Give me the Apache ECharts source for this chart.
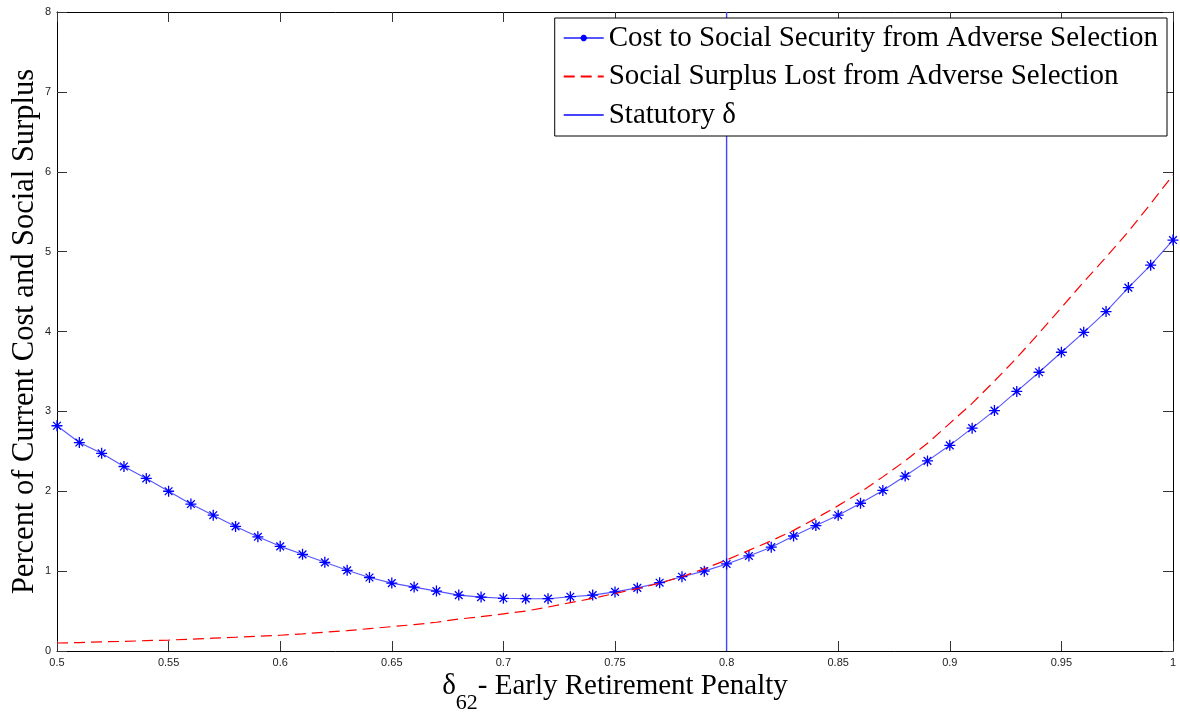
<!DOCTYPE html>
<html>
<head>
<meta charset="utf-8">
<title>Adverse Selection Cost vs Early Retirement Penalty</title>
<script src="https://cdn.jsdelivr.net/npm/echarts@6/dist/echarts.min.js"></script>
<style>
  html, body { margin: 0; padding: 0; background: #fff; }
  #chart { width: 1180px; height: 715px; }
</style>
</head>
<body>
<div id="chart"></div>
<script>
// Early retirement penalty (delta_62) grid
const delta = [
  0.50, 0.51, 0.52, 0.53, 0.54, 0.55, 0.56, 0.57, 0.58, 0.59,
  0.60, 0.61, 0.62, 0.63, 0.64, 0.65, 0.66, 0.67, 0.68, 0.69,
  0.70, 0.71, 0.72, 0.73, 0.74, 0.75, 0.76, 0.77, 0.78, 0.79,
  0.80, 0.81, 0.82, 0.83, 0.84, 0.85, 0.86, 0.87, 0.88, 0.89,
  0.90, 0.91, 0.92, 0.93, 0.94, 0.95, 0.96, 0.97, 0.98, 0.99,
  1.00
];

// Cost to Social Security from adverse selection (percent of current cost)
const costSS = [
  2.82, 2.61, 2.475, 2.31, 2.16, 2.00, 1.84, 1.70, 1.56, 1.43,
  1.31, 1.21, 1.11, 1.01, 0.92, 0.85, 0.80, 0.75, 0.70, 0.675,
  0.66, 0.655, 0.655, 0.68, 0.70, 0.74, 0.79, 0.855, 0.93, 1.00,
  1.09, 1.19, 1.30, 1.44, 1.57, 1.70, 1.85, 2.01, 2.19, 2.38,
  2.575, 2.79, 3.01, 3.25, 3.49, 3.74, 3.99, 4.25, 4.55, 4.83,
  5.145
];

// Social surplus lost from adverse selection (percent of social surplus)
const surplusLost = [
  0.10, 0.105, 0.115, 0.12, 0.13, 0.137, 0.148, 0.16, 0.172, 0.185,
  0.197, 0.215, 0.235, 0.255, 0.28, 0.305, 0.33, 0.36, 0.40, 0.43,
  0.465, 0.50, 0.55, 0.605, 0.66, 0.72, 0.78, 0.85, 0.93, 1.03,
  1.14, 1.26, 1.38, 1.51, 1.66, 1.82, 1.99, 2.18, 2.38, 2.60,
  2.85, 3.10, 3.38, 3.67, 3.98, 4.30, 4.62, 4.93, 5.25, 5.60,
  5.96
];

// Statutory early retirement penalty
const statutoryDelta = 0.8;

// Axis ranges
const xMin = 0.5, xMax = 1.0, xStep = 0.05;
const yMin = 0, yMax = 8, yStep = 1;

const seriesNames = [
  'Cost to Social Security from Adverse Selection',
  'Social Surplus Lost from Adverse Selection',
  'Statutory \u03b4'
];

const pair = (xs, ys) => xs.map((x, i) => [x, ys[i]]);

const starSymbol = 'path://M5,0L5,10M0,5L10,5M1.5,1.5L8.5,8.5M1.5,8.5L8.5,1.5';

const tickStyle = { show: true, inside: true, length: 10, lineStyle: { color: '#333', width: 1 } };
const axisLineStyle = { show: true, onZero: false, lineStyle: { color: '#000', width: 1 } };
const tickFont = { fontFamily: 'Liberation Sans', fontSize: 11, color: '#222' };

// legend entries without a marker show only their line sample
const noMarker = { color: 'rgba(0,0,0,0)', borderWidth: 0, opacity: 0 };

const chart = echarts.init(document.getElementById('chart'), null, { renderer: 'canvas' });

chart.setOption({
  animation: false,
  backgroundColor: '#fff',
  grid: { left: 57, right: 7, top: 12, bottom: 64, containLabel: false, outerBoundsMode: 'none' },
  legend: {
    orient: 'vertical',
    right: 13,
    top: 18,
    data: [
      { name: seriesNames[0] },
      { name: seriesNames[1], itemStyle: noMarker },
      { name: seriesNames[2], itemStyle: noMarker }
    ],
    backgroundColor: '#fff',
    borderColor: '#000',
    borderWidth: 1,
    borderRadius: 0,
    padding: [5, 9, 6, 8],
    itemWidth: 40,
    itemHeight: 8,
    itemGap: 8.5,
    textStyle: { fontFamily: 'Liberation Serif', fontSize: 29, lineHeight: 30, color: '#000' },
    selectedMode: false
  },
  xAxis: [
    {
      type: 'value', min: xMin, max: xMax, interval: xStep, position: 'bottom',
      axisLine: axisLineStyle, axisTick: tickStyle, splitLine: { show: false },
      axisLabel: Object.assign({ margin: 6, formatter: v => String(+v.toFixed(2)) }, tickFont),
      name: '{d|\u03b4}{s|62}{t|- Early Retirement Penalty}',
      nameLocation: 'middle',
      nameGap: 21,
      nameMoveOverlap: false,
      nameTextStyle: {
        rich: {
          d: { fontFamily: 'Liberation Serif', fontSize: 29, lineHeight: 34, verticalAlign: 'top', color: '#000' },
          s: { fontFamily: 'Liberation Serif', fontSize: 22, lineHeight: 22, padding: [20, 0, 0, 0], verticalAlign: 'top', color: '#000' },
          t: { fontFamily: 'Liberation Serif', fontSize: 29, lineHeight: 34, verticalAlign: 'top', color: '#000' }
        }
      }
    },
    {
      type: 'value', min: xMin, max: xMax, interval: xStep, position: 'top',
      axisLine: axisLineStyle, axisTick: tickStyle, axisLabel: { show: false }, splitLine: { show: false }
    }
  ],
  yAxis: [
    {
      type: 'value', min: yMin, max: yMax, interval: yStep, position: 'left',
      axisLine: axisLineStyle, axisTick: tickStyle, splitLine: { show: false },
      axisLabel: Object.assign({ margin: 6 }, tickFont),
      name: 'Percent of Current Cost and Social Surplus',
      nameLocation: 'middle',
      nameRotate: 90,
      nameGap: 17,
      nameMoveOverlap: false,
      nameTextStyle: { fontFamily: 'Liberation Serif', fontSize: 30.5, color: '#000', verticalAlign: 'bottom' }
    },
    {
      type: 'value', min: yMin, max: yMax, interval: yStep, position: 'right',
      axisLine: axisLineStyle, axisTick: tickStyle, axisLabel: { show: false }, splitLine: { show: false }
    }
  ],
  series: [
    {
      name: seriesNames[0],
      type: 'line',
      data: pair(delta, costSS),
      symbol: starSymbol,
      symbolSize: 11,
      showAllSymbol: true,
      lineStyle: { color: '#2a2aff', width: 1.1, opacity: 0.8 },
      itemStyle: { color: '#0000ff', borderColor: '#0000ff', borderWidth: 1.3 },
      emphasis: { disabled: true },
      z: 3
    },
    {
      name: seriesNames[1],
      type: 'line',
      data: pair(delta, surplusLost),
      symbol: 'none',
      smooth: false,
      lineStyle: { color: '#ff0000', width: 1.2, type: [11, 6] },
      itemStyle: { color: '#ff0000' },
      emphasis: { disabled: true },
      z: 4
    },
    {
      name: seriesNames[2],
      type: 'line',
      data: [[statutoryDelta, yMin], [statutoryDelta, yMax]],
      symbol: 'none',
      lineStyle: { color: '#4444ff', width: 1.4 },
      itemStyle: { color: '#4444ff' },
      emphasis: { disabled: true },
      z: 2
    }
  ]
});
</script>
</body>
</html>
